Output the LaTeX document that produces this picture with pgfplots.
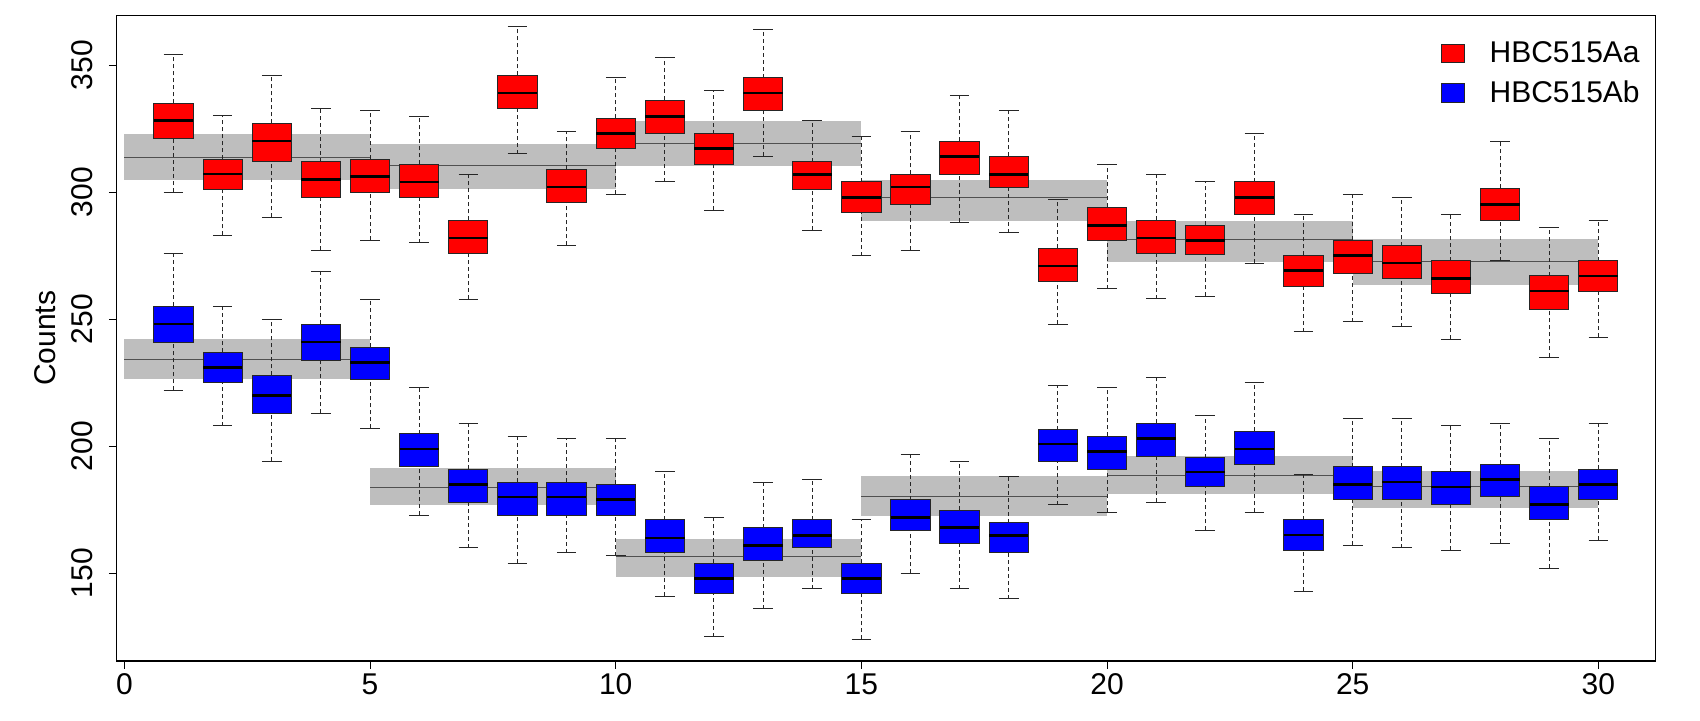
\documentclass[border=0pt]{standalone}
\usepackage{fontspec}
\setmainfont{Liberation Sans}
\usepackage{pgfplots}
\usepgfplotslibrary{statistics}
\pgfplotsset{compat=1.18}
\definecolor{bandgray}{HTML}{BEBEBE}
\definecolor{bandline}{HTML}{505050}
\definecolor{edge}{HTML}{262626}

\pgfplotsset{
  mybox/.style={
    forget plot,
    boxplot/draw direction=y,
    boxplot/box extend=0.8,
    boxplot/whisker extend=0.4,
    boxplot/every box/.style={draw=edge, line width=0.5pt, fill=#1},
    boxplot/every median/.style={draw=black, line width=1.4pt},
    boxplot/draw/lower whisker/.code={%
      \draw[edge, line width=0.5pt, dash pattern=on 2pt off 1.5pt]
        (boxplot cs:\pgfplotsboxplotvalue{lower whisker}) --
        (boxplot cs:\pgfplotsboxplotvalue{lower quartile});
      \draw[edge, line width=0.5pt]
        (boxplot whisker cs:\pgfplotsboxplotvalue{lower whisker},0) --
        (boxplot whisker cs:\pgfplotsboxplotvalue{lower whisker},1);
    },
    boxplot/draw/upper whisker/.code={%
      \draw[edge, line width=0.5pt, dash pattern=on 2pt off 1.5pt]
        (boxplot cs:\pgfplotsboxplotvalue{upper quartile}) --
        (boxplot cs:\pgfplotsboxplotvalue{upper whisker});
      \draw[edge, line width=0.5pt]
        (boxplot whisker cs:\pgfplotsboxplotvalue{upper whisker},0) --
        (boxplot whisker cs:\pgfplotsboxplotvalue{upper whisker},1);
    },
  },
  band/.style={forget plot, no markers, fill=bandgray, draw=none},
  bandmid/.style={forget plot, no markers, draw=bandline, line width=0.5pt},
}
% \bx{colour}{position}{lower whisker}{lower quartile}{median}{upper quartile}{upper whisker}
\newcommand\bx[7]{\addplot[mybox=#1, boxplot prepared={draw position=#2,
  lower whisker=#3, lower quartile=#4, median=#5, upper quartile=#6, upper whisker=#7}] coordinates {};}

\begin{document}
\begin{tikzpicture}
\begin{axis}[
  at={(0,0)}, anchor=south west,
  scale only axis, width=769.6pt, height=322.65pt,
  xmin=-0.161, xmax=31.168, ymin=115.5, ymax=369.4,
  axis line style={line width=0.6pt, black},
  xtick={0,5,...,30}, ytick={150,200,...,350},
  tick align=outside, major tick length=3.75pt,
  tick style={line width=0.5pt, black},
  tick pos=left,
  /pgf/number format/assume math mode=true,
  tick label style={font=\fontsize{15}{18}\selectfont},
  yticklabel style={rotate=90, anchor=base, inner sep=0pt},
  yticklabel shift=8.25pt,
  xticklabel style={anchor=north, inner sep=0pt},
  xticklabel shift=2.4pt,
  ylabel={Counts},
  ylabel style={at={(axis description cs:-0.0393,0.5)}, anchor=base, inner sep=0pt, font=\fontsize{15}{18}\selectfont},
  legend style={draw=none, fill=none, at={(axis description cs:0.8605,0.9606)}, anchor=north west,
    inner sep=0pt, font=\fontsize{15}{18}\selectfont, row sep=7.6pt, column sep=12.4pt,
    nodes={inner sep=0pt}},
  legend cell align=left,
]
% grey bands (red series)
\addplot[band] coordinates {(0,304.9) (5,304.9) (5,322.9) (0,322.9)};
\addplot[band] coordinates {(5,301.3) (10,301.3) (10,318.9) (5,318.9)};
\addplot[band] coordinates {(10,310.4) (15,310.4) (15,328.0) (10,328.0)};
\addplot[band] coordinates {(15,288.7) (20,288.7) (20,304.8) (15,304.8)};
\addplot[band] coordinates {(20,272.6) (25,272.6) (25,288.7) (20,288.7)};
\addplot[band] coordinates {(25,263.4) (30,263.4) (30,281.5) (25,281.5)};
% grey bands (blue series)
\addplot[band] coordinates {(0,226.6) (5,226.6) (5,242.2) (0,242.2)};
\addplot[band] coordinates {(5,177.0) (10,177.0) (10,191.4) (5,191.4)};
\addplot[band] coordinates {(10,148.6) (15,148.6) (15,163.4) (10,163.4)};
\addplot[band] coordinates {(15,172.6) (20,172.6) (20,188.3) (15,188.3)};
\addplot[band] coordinates {(20,181.3) (25,181.3) (25,196.0) (20,196.0)};
\addplot[band] coordinates {(25,175.8) (30,175.8) (30,190.1) (25,190.1)};
% band centre lines
\addplot[bandmid] coordinates {(0,313.8) (5,313.8)};
\addplot[bandmid] coordinates {(5,310.4) (10,310.4)};
\addplot[bandmid] coordinates {(10,319.2) (15,319.2)};
\addplot[bandmid] coordinates {(15,297.7) (20,297.7)};
\addplot[bandmid] coordinates {(20,281.5) (25,281.5)};
\addplot[bandmid] coordinates {(25,272.5) (30,272.5)};
\addplot[bandmid] coordinates {(0,234.3) (5,234.3)};
\addplot[bandmid] coordinates {(5,183.7) (10,183.7)};
\addplot[bandmid] coordinates {(10,156.6) (15,156.6)};
\addplot[bandmid] coordinates {(15,180.4) (20,180.4)};
\addplot[bandmid] coordinates {(20,188.3) (25,188.3)};
\addplot[bandmid] coordinates {(25,184.0) (30,184.0)};

% HBC515Aa (red)
\bx{red}{1}{300.0}{321.1}{328.1}{334.9}{354.2}
\bx{red}{2}{283.0}{301.1}{307.1}{312.9}{330.1}
\bx{red}{3}{290.1}{312.0}{320.1}{327.0}{345.9}
\bx{red}{4}{277.2}{298.0}{305.0}{312.0}{333.0}
\bx{red}{5}{281.1}{300.0}{306.1}{312.9}{332.2}
\bx{red}{6}{280.0}{297.9}{304.0}{310.9}{329.9}
\bx{red}{7}{257.9}{275.9}{281.9}{288.9}{307.0}
\bx{red}{8}{315.0}{333.0}{339.0}{345.9}{365.1}
\bx{red}{9}{279.0}{296.0}{302.0}{308.9}{323.9}
\bx{red}{10}{299.1}{317.0}{323.0}{329.0}{345.0}
\bx{red}{11}{304.0}{323.0}{329.9}{336.1}{353.0}
\bx{red}{12}{292.9}{310.9}{317.0}{323.0}{340.0}
\bx{red}{13}{314.1}{332.0}{339.0}{345.0}{364.0}
\bx{red}{14}{285.0}{300.9}{307.0}{312.0}{328.0}
\bx{red}{15}{275.0}{292.0}{297.9}{304.0}{321.9}
\bx{red}{16}{277.1}{295.0}{302.0}{307.0}{323.9}
\bx{red}{17}{288.1}{307.0}{313.9}{320.0}{338.1}
\bx{red}{18}{284.0}{302.0}{307.0}{314.1}{332.0}
\bx{red}{19}{248.0}{265.0}{270.9}{278.0}{297.0}
\bx{red}{20}{262.0}{281.0}{287.0}{294.0}{310.9}
\bx{red}{21}{258.1}{275.9}{281.9}{289.0}{307.0}
\bx{red}{22}{259.0}{275.4}{281.0}{286.9}{304.0}
\bx{red}{23}{272.0}{291.0}{297.9}{304.0}{323.0}
\bx{red}{24}{245.1}{263.0}{269.1}{275.1}{291.0}
\bx{red}{25}{249.0}{268.0}{275.0}{281.0}{299.1}
\bx{red}{26}{247.0}{266.1}{272.1}{278.9}{297.8}
\bx{red}{27}{242.1}{260.0}{266.1}{273.0}{291.0}
\bx{red}{28}{273.0}{289.0}{295.0}{301.5}{319.8}
\bx{red}{29}{235.0}{254.0}{261.1}{267.0}{286.0}
\bx{red}{30}{242.9}{261.0}{267.0}{273.0}{289.0}
% HBC515Ab (blue)
\bx{blue}{1}{222.0}{241.0}{248.1}{255.1}{276.0}
\bx{blue}{2}{208.0}{225.0}{231.0}{237.0}{255.1}
\bx{blue}{3}{194.1}{212.9}{220.0}{227.9}{250.0}
\bx{blue}{4}{212.9}{233.9}{241.0}{248.1}{268.9}
\bx{blue}{5}{207.0}{226.1}{233.0}{239.0}{257.9}
\bx{blue}{6}{172.9}{191.9}{198.9}{204.9}{223.1}
\bx{blue}{7}{160.0}{177.9}{185.0}{191.0}{209.0}
\bx{blue}{8}{153.9}{172.9}{180.0}{185.9}{203.9}
\bx{blue}{9}{158.0}{172.9}{180.0}{185.9}{203.0}
\bx{blue}{10}{157.0}{172.9}{178.9}{185.0}{203.0}
\bx{blue}{11}{140.9}{158.0}{163.9}{171.0}{190.0}
\bx{blue}{12}{125.0}{142.0}{147.9}{153.9}{172.0}
\bx{blue}{13}{136.0}{155.0}{160.9}{168.0}{185.9}
\bx{blue}{14}{144.0}{160.0}{164.9}{171.0}{187.0}
\bx{blue}{15}{124.0}{142.0}{147.9}{153.9}{171.0}
\bx{blue}{16}{150.0}{166.9}{172.0}{179.0}{196.9}
\bx{blue}{17}{144.0}{161.9}{168.0}{174.9}{194.1}
\bx{blue}{18}{140.0}{158.0}{164.9}{169.9}{188.0}
\bx{blue}{19}{177.0}{194.1}{200.9}{206.5}{224.0}
\bx{blue}{20}{174.0}{191.0}{197.9}{203.9}{223.0}
\bx{blue}{21}{178.0}{196.0}{203.0}{209.0}{227.1}
\bx{blue}{22}{166.9}{184.0}{189.9}{195.5}{212.0}
\bx{blue}{23}{174.0}{193.0}{198.9}{206.0}{225.0}
\bx{blue}{24}{143.0}{159.0}{165.1}{171.0}{189.0}
\bx{blue}{25}{161.0}{178.9}{184.9}{191.9}{211.0}
\bx{blue}{26}{160.0}{178.9}{185.9}{191.9}{211.0}
\bx{blue}{27}{159.0}{177.0}{184.0}{190.0}{208.0}
\bx{blue}{28}{161.9}{180.4}{187.0}{192.9}{209.0}
\bx{blue}{29}{152.0}{171.0}{177.0}{184.0}{203.0}
\bx{blue}{30}{163.0}{178.9}{184.9}{191.0}{209.0}

\addlegendimage{legend image code/.code={\draw[draw=edge, line width=0.5pt, fill=red] (0pt,-4.6pt) rectangle (11.2pt,4.6pt);}}
\addlegendentry{HBC515Aa}
\addlegendimage{legend image code/.code={\draw[draw=edge, line width=0.5pt, fill=blue] (0pt,-4.6pt) rectangle (11.2pt,4.6pt);}}
\addlegendentry{HBC515Ab}
\end{axis}
\pgfresetboundingbox
\useasboundingbox (-58.25pt,-29.5pt) rectangle (791.75pt,330.5pt);
\end{tikzpicture}
\end{document}
